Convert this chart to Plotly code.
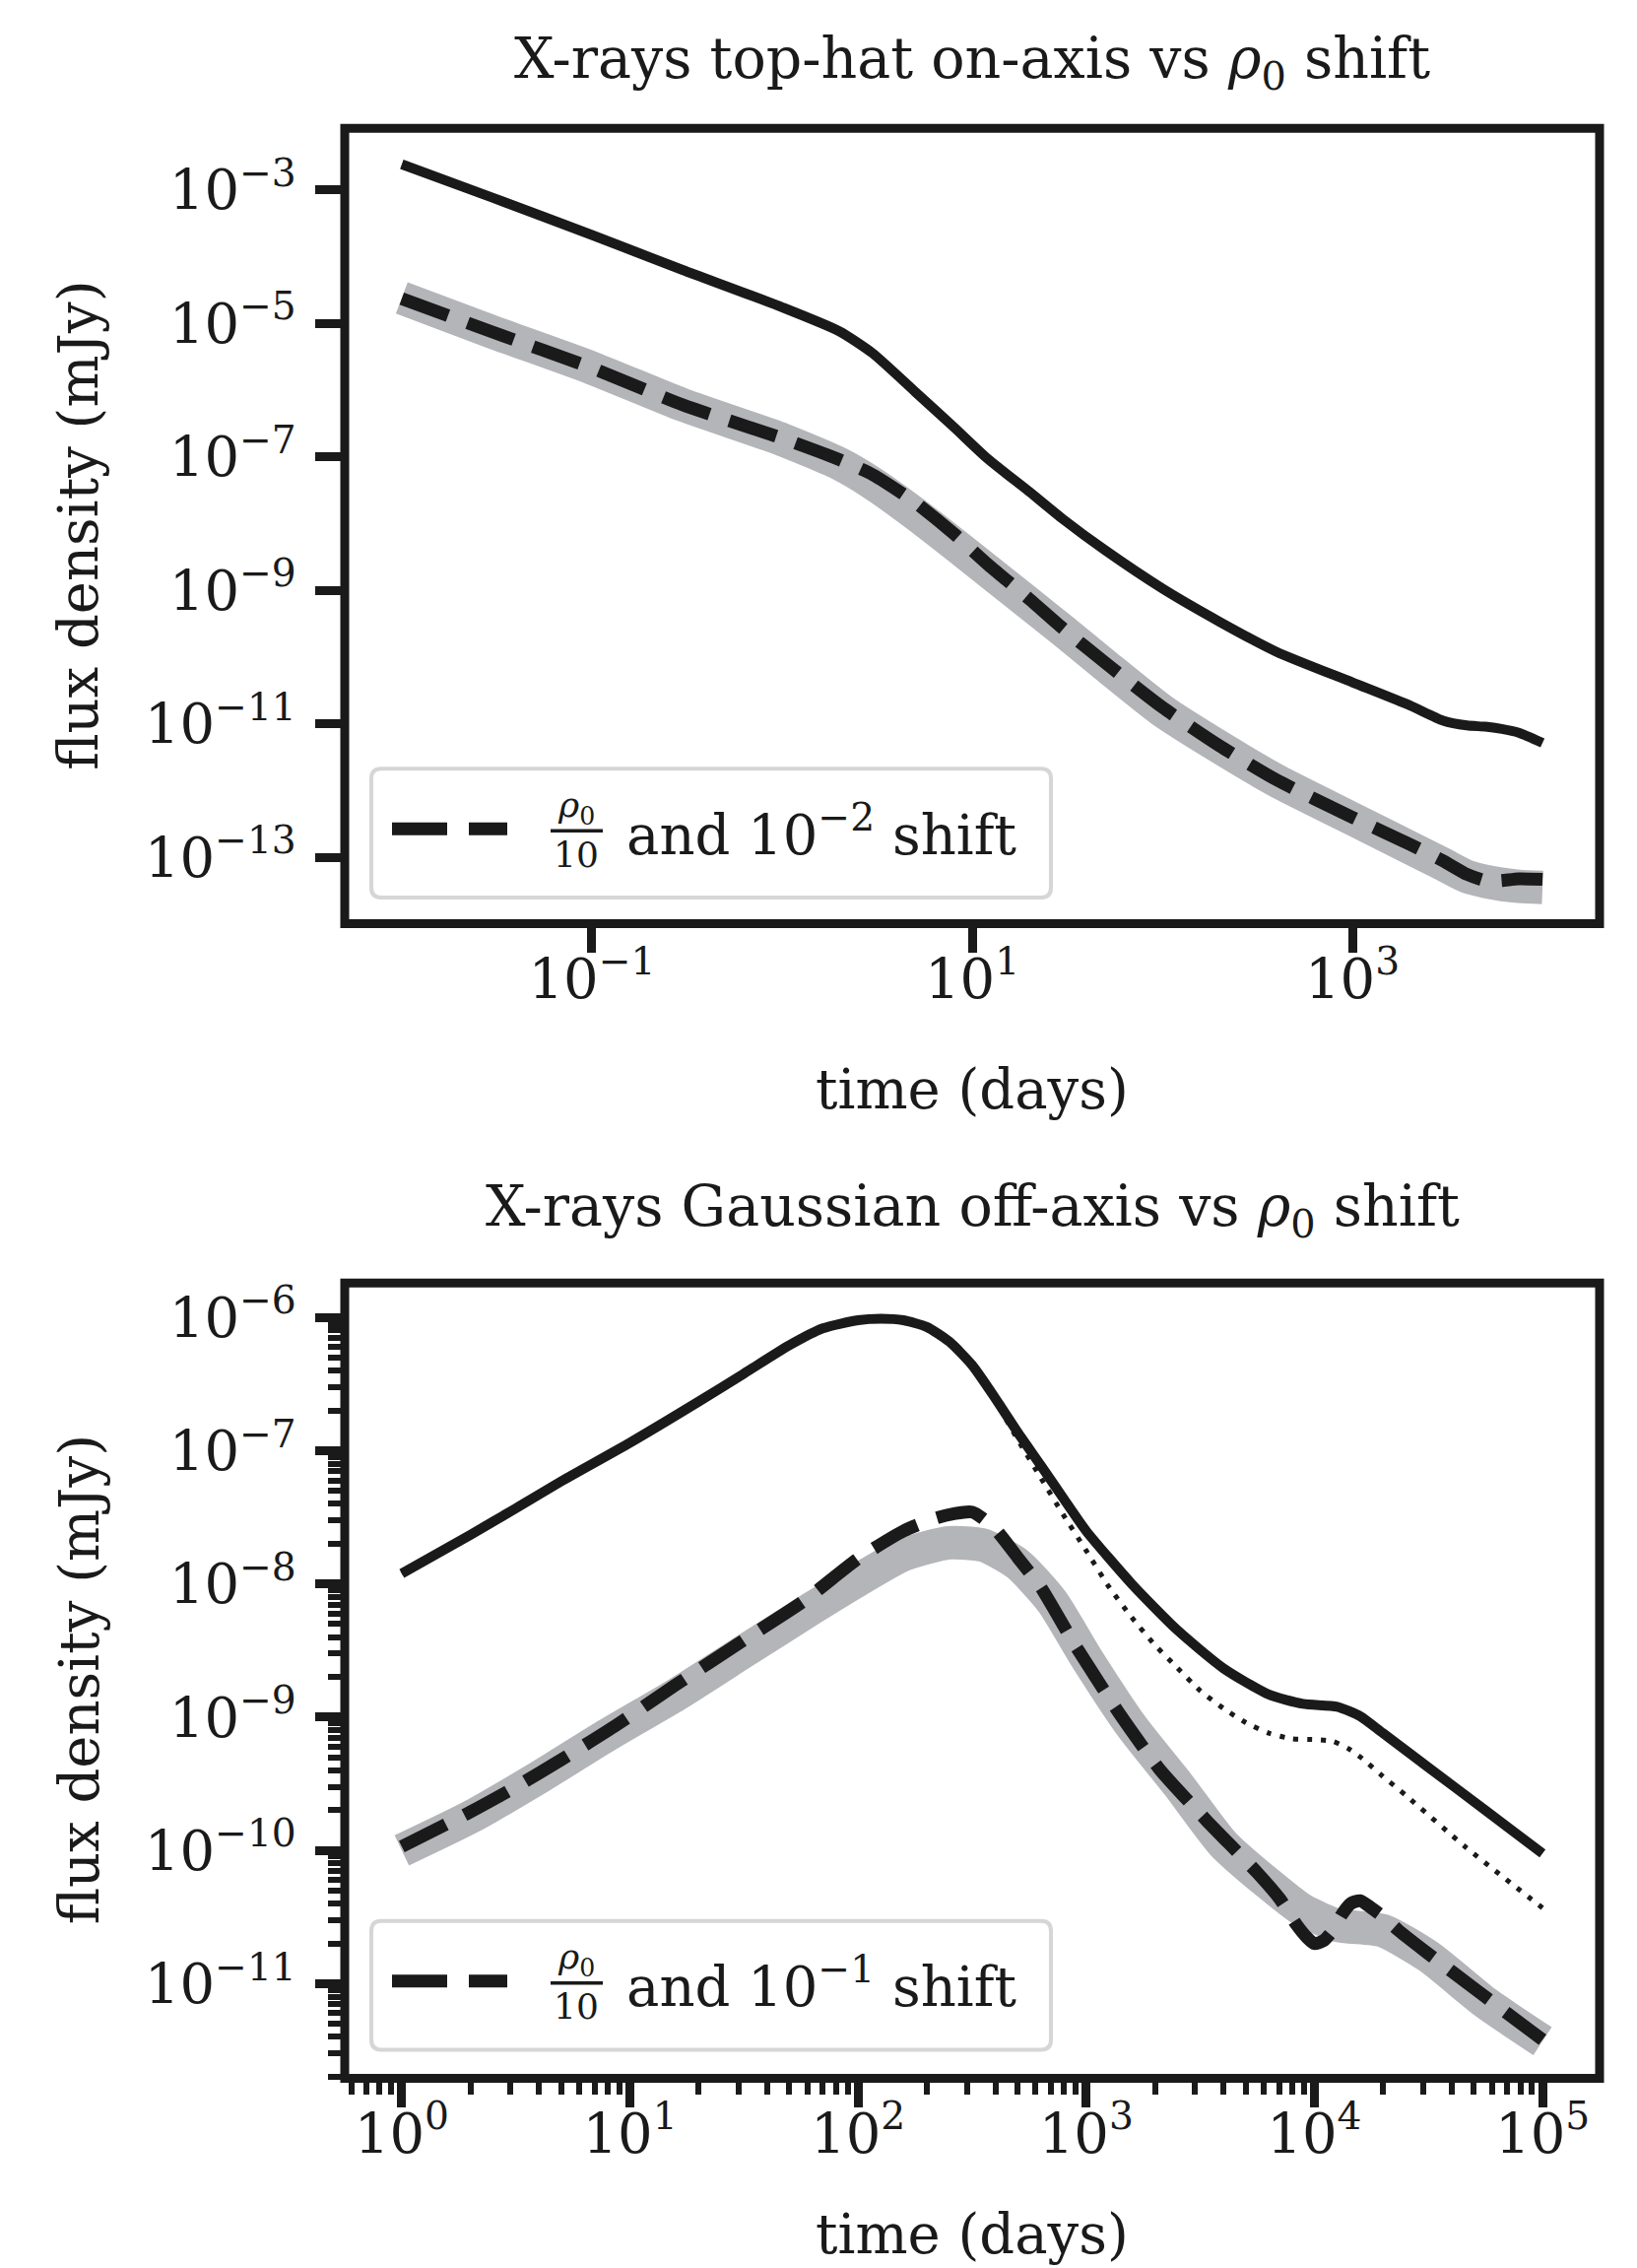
import plotly.graph_objects as go

# ---------------- data ----------------
# Top panel: X-rays top-hat on-axis
top_t = [0.01, 0.03, 0.1, 0.3, 1, 2, 3, 5, 8, 12, 20, 30, 50, 100, 200, 400,
         1000, 2000, 3000, 4000, 5000, 6000, 7500, 10000]
top_solid = [2.4e-3, 7.6e-4, 2.1e-4, 6.3e-5, 1.74e-5, 7.6e-6, 3.55e-6, 9.5e-7,
             2.8e-7, 9.5e-8, 3.0e-8, 1.17e-8, 4.0e-9, 1.07e-9, 3.4e-10, 1.2e-10,
             4.2e-11, 1.9e-11, 1.12e-11, 9.5e-12, 9.1e-12, 8.5e-12, 7.4e-12, 5.2e-12]
top_dashed = [2.34e-5, 7.4e-6, 2.14e-6, 6.0e-7, 1.9e-7, 9.1e-8, 5.4e-8, 2.1e-8,
              7.1e-9, 2.5e-9, 7.4e-10, 2.7e-10, 8.3e-11, 1.78e-11, 4.7e-12, 1.45e-12,
              4.0e-13, 1.58e-13, 8.9e-14, 5.6e-14, 4.5e-14, 4.5e-14, 4.8e-14, 4.7e-14]
top_grey = [2.4e-5, 7.4e-6, 2.14e-6, 6.0e-7, 1.82e-7, 7.9e-8, 4.0e-8, 1.41e-8,
            5.0e-9, 2.0e-9, 6.3e-10, 2.5e-10, 7.6e-11, 1.58e-11, 4.5e-12, 1.41e-12,
            3.8e-13, 1.41e-13, 7.9e-14, 5.2e-14, 4.4e-14, 4.0e-14, 3.7e-14, 3.55e-14]

# Bottom panel: X-rays Gaussian off-axis
bot_t_solid = [1, 2, 3.16, 5, 10, 20, 31.6, 50, 70, 100, 126, 158, 200, 251, 316,
               398, 500, 631, 794, 1000, 1585, 2512, 3981, 6310, 8913, 12589,
               15849, 19953, 31623, 56234, 100000]
bot_solid = [1.2e-8, 2.34e-8, 3.7e-8, 5.9e-8, 1.15e-7, 2.34e-7, 3.8e-7, 6.2e-7,
             8.3e-7, 9.55e-7, 9.8e-7, 9.55e-7, 8.5e-7, 6.6e-7, 4.4e-7,
             2.5e-7, 1.38e-7, 7.8e-8, 4.4e-8, 2.5e-8, 1.0e-8, 4.5e-9, 2.34e-9,
             1.48e-9, 1.26e-9, 1.2e-9, 1.02e-9, 7.6e-10, 4.2e-10, 2.0e-10, 9.5e-11]
bot_t_dotted = [1, 2, 3.16, 5, 10, 20, 31.6, 50, 70, 100, 126, 158, 200, 251, 316,
                398, 500, 631, 794, 1000, 1259, 1585, 1995, 2512, 3162, 3981, 5012,
                6310, 7943, 10000, 12023, 14125, 16218, 19953, 25119, 45709, 100000]
bot_dotted = [1.2e-8, 2.34e-8, 3.7e-8, 5.9e-8, 1.15e-7, 2.34e-7, 3.8e-7, 6.2e-7,
              8.3e-7, 9.55e-7, 9.8e-7, 9.55e-7, 8.5e-7, 6.6e-7, 4.4e-7,
              2.4e-7, 1.22e-7, 6.3e-8, 3.3e-8, 1.78e-8, 9.5e-9, 5.6e-9, 3.5e-9,
              2.34e-9, 1.58e-9, 1.17e-9, 9.1e-10, 7.6e-10, 6.9e-10, 6.8e-10,
              6.6e-10, 5.8e-10, 4.9e-10, 3.6e-10, 2.6e-10, 1.07e-10, 3.7e-11]
bot_t_dashed = [1, 2, 3.16, 5, 8.7, 15.8, 31.6, 57.5, 100, 158, 224, 316, 398, 501,
                631, 891, 1380, 2089, 3388, 5623, 7079, 8318, 9333, 10000, 10965,
                12023, 13183, 14454, 15849, 17783, 19953, 23442, 30200, 52481, 89125,
                100000]
bot_dashed = [1.07e-10, 1.95e-10, 3.0e-10, 4.8e-10, 8.7e-10, 1.74e-9, 3.8e-9,
              7.4e-9, 1.55e-8, 2.5e-8, 3.16e-8, 3.47e-8, 2.6e-8, 1.58e-8,
              9.5e-9, 3.5e-9, 1.1e-9, 4.1e-10, 1.66e-10, 6.8e-11, 4.3e-11, 2.8e-11,
              2.2e-11, 2.0e-11, 2.1e-11, 2.5e-11, 3.3e-11, 4.0e-11, 4.2e-11, 3.7e-11,
              3.2e-11, 2.5e-11, 1.78e-11, 8.7e-12, 4.4e-12, 3.8e-12]
bot_t_grey = [1, 2, 4, 8, 16, 32, 63, 100, 158, 251, 355, 501, 708, 1000, 1585,
              2512, 3981, 6310, 8913, 12589, 19953, 31623, 56234, 100000]
bot_grey = [1.0e-10, 1.78e-10, 3.55e-10, 7.4e-10, 1.48e-9, 3.16e-9, 6.6e-9,
            1.07e-8, 1.66e-8, 2.04e-8, 1.95e-8, 1.41e-8, 7.4e-9, 2.8e-9, 8.5e-10,
            3.16e-10, 1.12e-10, 5.6e-11, 3.55e-11, 2.75e-11, 2.5e-11, 1.6e-11,
            7.2e-12, 3.7e-12]

top_xticks = [0.1, 10, 1000]
top_xtext = ["10<sup>−1</sup>", "10<sup>1</sup>", "10<sup>3</sup>"]
top_yticks = [1e-3, 1e-5, 1e-7, 1e-9, 1e-11, 1e-13]
top_ytext = ["10<sup>−3</sup>", "10<sup>−5</sup>", "10<sup>−7</sup>",
             "10<sup>−9</sup>", "10<sup>−11</sup>", "10<sup>−13</sup>"]
bot_xticks = [1, 10, 100, 1000, 10000, 100000]
bot_xtext = ["10<sup>0</sup>", "10<sup>1</sup>", "10<sup>2</sup>",
             "10<sup>3</sup>", "10<sup>4</sup>", "10<sup>5</sup>"]
bot_yticks = [1e-6, 1e-7, 1e-8, 1e-9, 1e-10, 1e-11]
bot_ytext = ["10<sup>−6</sup>", "10<sup>−7</sup>", "10<sup>−8</sup>",
             "10<sup>−9</sup>", "10<sup>−10</sup>", "10<sup>−11</sup>"]

titles = ["X-rays top-hat on-axis vs <i>ρ</i><sub>0</sub> shift",
          "X-rays Gaussian off-axis vs <i>ρ</i><sub>0</sub> shift"]
legend_shift = ["10<sup>−2</sup>", "10<sup>−1</sup>"]

# ---------------- styling ----------------
W, H = 1662, 2302
FONT = "DejaVu Serif"
INK = "#1a1a1a"
GREY = "#b4b5b9"
FS = 56


def px(x):
    return x / W


def py(y):
    return 1 - y / H


fig = go.Figure()

def add_line(x, y, xa, ya, color, width, dash="solid"):
    fig.add_trace(go.Scatter(x=x, y=y, xaxis=xa, yaxis=ya, mode="lines",
                             line=dict(color=color, width=width, dash=dash,
                                       shape="spline", smoothing=0.6),
                             showlegend=False, hoverinfo="skip"))

add_line(top_t, top_grey, "x", "y", GREY, 34)
add_line(top_t, top_dashed, "x", "y", INK, 13, "50px,21px")
add_line(top_t, top_solid, "x", "y", INK, 10)

add_line(bot_t_grey, bot_grey, "x2", "y2", GREY, 34)
add_line(bot_t_dashed, bot_dashed, "x2", "y2", INK, 13, "50px,21px")
add_line(bot_t_dotted, bot_dotted, "x2", "y2", INK, 5, "5px,9px")
add_line(bot_t_solid, bot_solid, "x2", "y2", INK, 10)

xdom = [px(350), px(1624)]
top_ydom = [py(934.5), py(125.5)]
bot_ydom = [py(2109), py(1300)]

tickfont = dict(family=FONT, size=FS, color=INK)
common = dict(type="log", showgrid=False, zeroline=False, showline=False,
              ticks="outside", ticklen=29, tickwidth=9, tickcolor=INK,
              tickfont=tickfont, tickmode="array")
xcommon = dict(ticklabelstandoff=-22, **common)
ycommon = dict(ticklabelstandoff=8, **common)

def minor_vals(lo, hi):
    vals = []
    for e in range(lo, hi):
        for m in range(2, 10):
            vals.append(m * 10.0 ** e)
    return vals

minor_style = dict(tickmode="array", ticks="outside", ticklen=16, tickwidth=6,
                   tickcolor=INK)

fig.update_layout(
    width=W, height=H, margin=dict(l=0, r=0, t=0, b=0),
    paper_bgcolor="white", plot_bgcolor="white",
    xaxis=dict(domain=xdom, anchor="y", range=[-2.3, 4.3],
               tickvals=top_xticks, ticktext=top_xtext, **xcommon),
    yaxis=dict(domain=top_ydom, anchor="x", range=[-13.99, -2.08],
               tickvals=top_yticks, ticktext=top_ytext, **ycommon),
    xaxis2=dict(domain=xdom, anchor="y2", range=[-0.25, 5.25],
                tickvals=bot_xticks, ticktext=bot_xtext,
                minor=dict(tickvals=minor_vals(-1, 6), **minor_style),
                **xcommon),
    yaxis2=dict(domain=bot_ydom, anchor="x2", range=[-11.71, -5.74],
                tickvals=bot_yticks, ticktext=bot_ytext,
                minor=dict(tickvals=minor_vals(-12, -5), **minor_style),
                **ycommon),
)

shapes = []
annotations = []
# frames
for xr, yr in (("x domain", "y domain"), ("x2 domain", "y2 domain")):
    shapes.append(dict(type="rect", xref=xr, yref=yr, x0=0, x1=1, y0=0, y1=1,
                       line=dict(color=INK, width=9), fillcolor="rgba(0,0,0,0)",
                       layer="above"))

title_y = [58, 1226]
xlabel_y = [1103, 2267]
ylabel_y = [530, 1704]
legend_top = [777, 1949]

for i in range(2):
    annotations.append(dict(text=titles[i], x=px(987), y=py(title_y[i]),
                            xref="paper", yref="paper", showarrow=False,
                            xanchor="center", yanchor="middle",
                            font=dict(family=FONT, size=57, color=INK)))
    annotations.append(dict(text="time (days)", x=px(987), y=py(xlabel_y[i]),
                            xref="paper", yref="paper", showarrow=False,
                            xanchor="center", yanchor="middle",
                            font=dict(family=FONT, size=FS, color=INK)))
    annotations.append(dict(text="flux density (mJy)", x=px(80), y=py(ylabel_y[i]),
                            xref="paper", yref="paper", showarrow=False,
                            textangle=-90, xanchor="center", yanchor="middle",
                            font=dict(family=FONT, size=FS, color=INK)))
    # legend box (rounded)
    t0 = legend_top[i]
    x0, x1, y0, y1 = 377, 1067, t0, t0 + 131
    r = 10
    path = (f"M {px(x0 + r)},{py(y0)} L {px(x1 - r)},{py(y0)} "
            f"Q {px(x1)},{py(y0)} {px(x1)},{py(y0 + r)} "
            f"L {px(x1)},{py(y1 - r)} Q {px(x1)},{py(y1)} {px(x1 - r)},{py(y1)} "
            f"L {px(x0 + r)},{py(y1)} Q {px(x0)},{py(y1)} {px(x0)},{py(y1 - r)} "
            f"L {px(x0)},{py(y0 + r)} Q {px(x0)},{py(y0)} {px(x0 + r)},{py(y0)} Z")
    shapes.append(dict(type="path", xref="paper", yref="paper", path=path,
                       line=dict(color="#d6d6d6", width=4),
                       fillcolor="rgba(255,255,255,0.85)", layer="above"))
    ym = t0 + 61
    shapes.append(dict(type="line", xref="paper", yref="paper",
                       x0=px(398), x1=px(515), y0=py(ym), y1=py(ym),
                       line=dict(color=INK, width=13, dash="56px,22px"),
                       layer="above"))
    shapes.append(dict(type="line", xref="paper", yref="paper",
                       x0=px(559), x1=px(612), y0=py(ym + 2), y1=py(ym + 2),
                       line=dict(color=INK, width=3.5), layer="above"))
    annotations.append(dict(text="<i>ρ</i><sub>0</sub>", x=px(585), y=py(ym - 22),
                            xref="paper", yref="paper", showarrow=False,
                            xanchor="center", yanchor="middle",
                            font=dict(family=FONT, size=36, color=INK)))
    annotations.append(dict(text="10", x=px(585), y=py(ym + 26),
                            xref="paper", yref="paper", showarrow=False,
                            xanchor="center", yanchor="middle",
                            font=dict(family=FONT, size=36, color=INK)))
    annotations.append(dict(text=f"and {legend_shift[i]} shift", x=px(634),
                            y=py(ym + 2), xref="paper", yref="paper",
                            showarrow=False, xanchor="left", yanchor="middle",
                            font=dict(family=FONT, size=FS, color=INK)))

fig.update_layout(shapes=shapes, annotations=annotations)
fig.write_html("out.html")
